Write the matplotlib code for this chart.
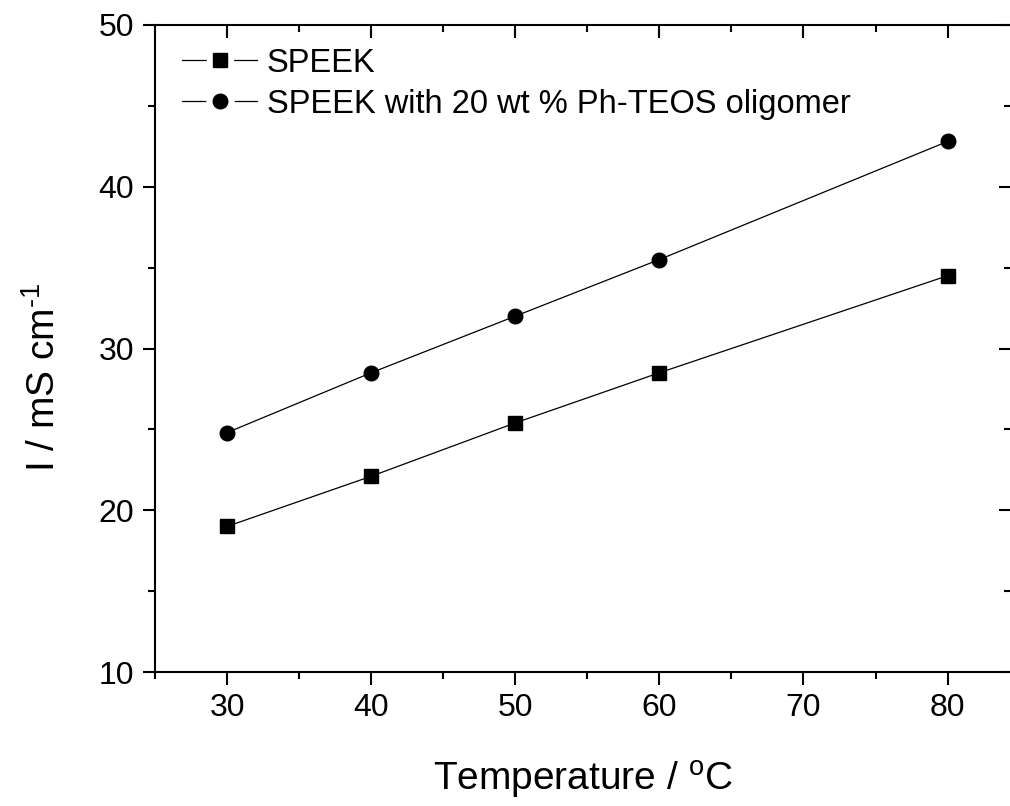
import matplotlib
matplotlib.use('Agg')
import matplotlib.pyplot as plt
from matplotlib.lines import Line2D
from matplotlib.ticker import MultipleLocator

plt.rcParams['font.family'] = ['Liberation Sans', 'DejaVu Sans']
plt.rcParams['mathtext.fontset'] = 'custom'
plt.rcParams['mathtext.rm'] = 'Liberation Sans'
plt.rcParams['mathtext.it'] = 'Liberation Sans'

temperature = [30, 40, 50, 60, 80]
speek = [19.0, 22.1, 25.4, 28.5, 34.5]
speek_ph_teos = [24.8, 28.5, 32.0, 35.5, 42.8]
labels = ['SPEEK', 'SPEEK with 20 wt % Ph-TEOS oligomer']

fig = plt.figure(figsize=(10.10, 8.06), dpi=100)
ax = fig.add_axes([155 / 1010, 1 - 672 / 806, 1 - 155 / 1010 + 0.001, (672 - 25) / 806])

ax.plot(temperature, speek, color='black', lw=0.9, marker='s', markersize=9.5)
ax.plot(temperature, speek_ph_teos, color='black', lw=0.9, marker='o', markersize=10.5)

ax.set_xlim(25, 84.4)
ax.set_ylim(10, 50)
ax.xaxis.set_major_locator(MultipleLocator(10))
ax.xaxis.set_minor_locator(MultipleLocator(5))
ax.yaxis.set_major_locator(MultipleLocator(10))
ax.yaxis.set_minor_locator(MultipleLocator(5))

ax.tick_params(which='both', direction='out', width=1.5, labelsize=23,
               top=True, right=True)
ax.tick_params(which='major', length=9, pad=6)
ax.tick_params(which='minor', length=5)
# top and right ticks point inward
for t in ax.xaxis.get_major_ticks() + ax.xaxis.get_minor_ticks():
    t.tick2line.set_marker(3)
for t in ax.yaxis.get_major_ticks() + ax.yaxis.get_minor_ticks():
    t.tick2line.set_marker(0)
for sp in ax.spines.values():
    sp.set_linewidth(1.5)

ax.set_xlabel(r'Temperature / $^{\rm o}$C', fontsize=28, labelpad=26)
ax.set_ylabel(r'I / mS cm$^{\text{-1}}$', fontsize=28)
ax.yaxis.set_label_coords(-0.108, 0.455)

# legend handles: line, then a white marker to break the line, then the marker
def legend_handle(marker, size):
    line = Line2D([], [], color='black', lw=0.9)
    halo = Line2D([], [], ls='none', marker=marker, markersize=size + 9,
                  color='white')
    mark = Line2D([], [], ls='none', marker=marker, markersize=size,
                  color='black')
    return (line, halo, mark)

handles = [legend_handle('s', 9.5), legend_handle('o', 10.5)]
ax.legend(handles, labels, loc='upper left', bbox_to_anchor=(0.005, 1.0),
          frameon=False, fontsize=23.5,
          handlelength=2.3, handletextpad=0.3, borderaxespad=0.3,
          borderpad=0.4, labelspacing=0.3)

fig.savefig('out.png', dpi=100)
